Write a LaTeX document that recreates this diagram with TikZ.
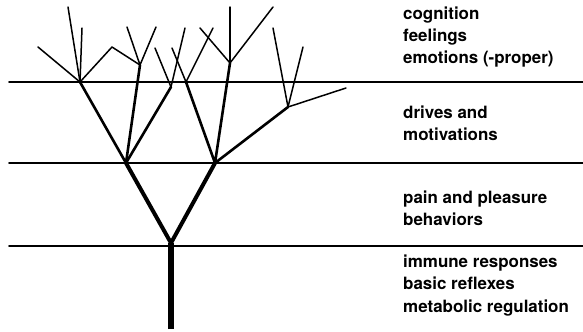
\documentclass[tikz,border=0pt]{standalone}
\usepackage{fontspec}
\setsansfont{TeX Gyre Heros}
\begin{document}
\begin{tikzpicture}[x=1bp, y=-1bp, line cap=round, line join=round,
  level/.style = {line width=1.6bp},
  trunk/.style = {line width=6bp, line cap=butt},
  fork/.style = {line width=4bp},
  twig/.style = {line width=2.6bp},
  leaf/.style = {line width=1.5bp},
  band/.style = {font=\sffamily\bfseries\fontsize{17}{22.5}\selectfont, align=left, anchor=west, inner sep=0pt}]
\useasboundingbox (0,0) rectangle (583,331);
\foreach \y/\n in {82/one, 163/two, 246/three} {
  \coordinate (\n w) at (9,\y); \coordinate (\n e) at (583,\y);
  \draw[level] (\n w) -- (\n e);
}
% tree
\coordinate (root) at (171,329);
\coordinate (stem) at (171,243);
\coordinate (la) at (126,163);
\coordinate (rb) at (215,163);
\coordinate (la1) at (80,82);
\coordinate (la2) at (140,65);
\coordinate (la3) at (171,87);
\coordinate (lb1) at (112,47);
\coordinate (rb1) at (186,82);
\coordinate (rb2) at (230,63);
\coordinate (rb3) at (288,107);
\draw[trunk] (root) -- (stem);
\draw[fork] (la) -- (stem) -- (rb);
\draw[twig] (la1) -- (la) -- (la2);
\draw[twig] (la) -- (la3);
\draw[twig] (rb1) -- (rb) -- (rb2);
\draw[twig] (rb) -- (rb3);
\draw[leaf] (la1) -- (lb1) -- (la2);
\foreach \p in {(38,47), (68,7), (82,28)} \draw[leaf] (la1) -- \p;
\foreach \p in {(127,27), (156,27)} \draw[leaf] (la2) -- \p;
\foreach \p in {(185,28), (155,48)} \draw[leaf] (la3) -- \p;
\foreach \p in {(172,48), (213,28)} \draw[leaf] (rb1) -- \p;
\foreach \p in {(200,28), (230,7), (273,7)} \draw[leaf] (rb2) -- \p;
\foreach \p in {(273,28), (303,47), (346,88)} \draw[leaf] (rb3) -- \p;
% labels
\node[band] (cog) at (403,37) {cognition\\feelings\\emotions (-proper)};
\node[band] (drv) at (403,123.5) {drives and\\motivations};
\node[band] (pain) at (403,208.5) {pain and pleasure\\behaviors};
\node[band] (imm) at (403,285.5) {immune responses\\basic reflexes\\metabolic regulation};
\end{tikzpicture}
\end{document}
